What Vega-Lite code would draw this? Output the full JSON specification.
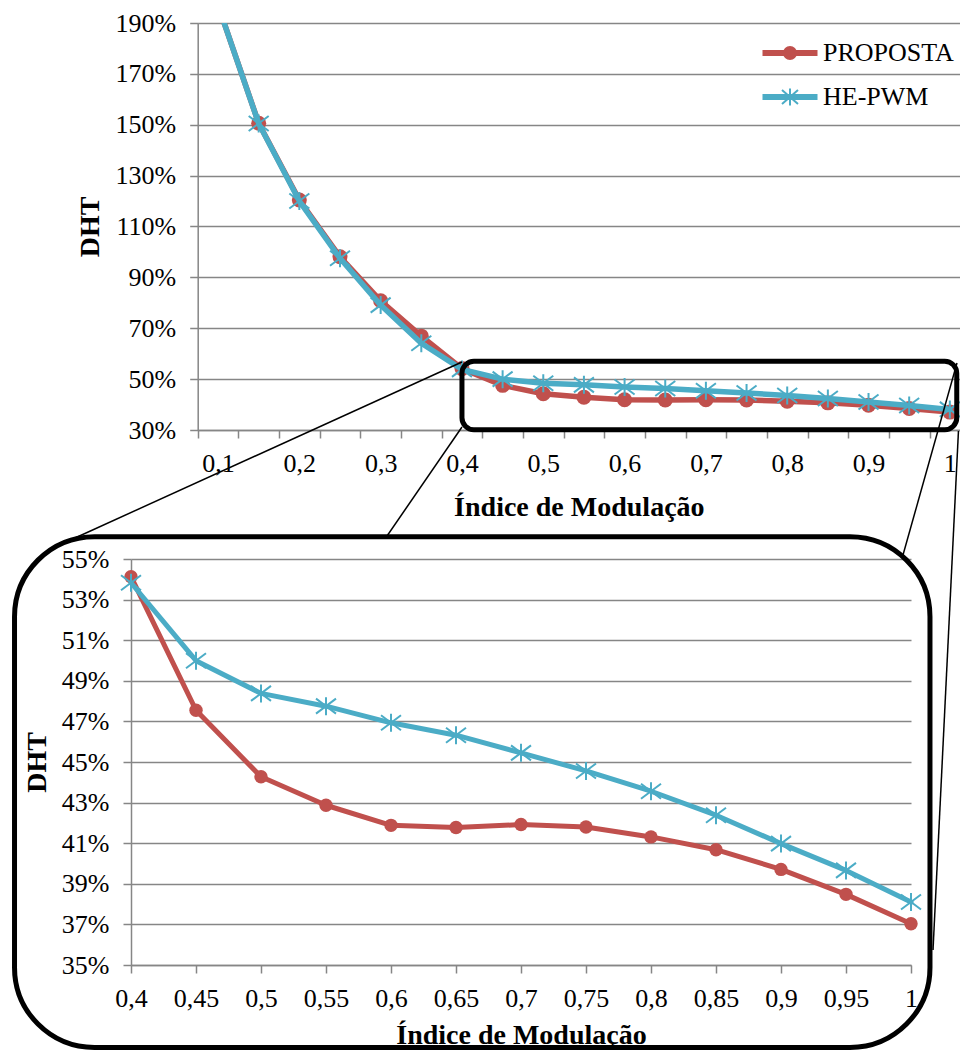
{
  "$schema": "https://vega.github.io/schema/vega-lite/v6.json",
  "autosize": {"type": "none"},
  "padding": {"left": 131, "top": 23, "right": 829, "bottom": 1027},
  "background": "white",
  "bounds": "flush",
  "spacing": 129,
  "datasets": {
    "dht": [
      {"m": 0.1, "serie": "PROPOSTA", "v": 1.97},
      {"m": 0.15, "serie": "PROPOSTA", "v": 1.506},
      {"m": 0.2, "serie": "PROPOSTA", "v": 1.204},
      {"m": 0.25, "serie": "PROPOSTA", "v": 0.981},
      {"m": 0.3, "serie": "PROPOSTA", "v": 0.808},
      {"m": 0.35, "serie": "PROPOSTA", "v": 0.669},
      {"m": 0.4, "serie": "PROPOSTA", "v": 0.5413},
      {"m": 0.45, "serie": "PROPOSTA", "v": 0.4755},
      {"m": 0.5, "serie": "PROPOSTA", "v": 0.4427},
      {"m": 0.55, "serie": "PROPOSTA", "v": 0.4287},
      {"m": 0.6, "serie": "PROPOSTA", "v": 0.4188},
      {"m": 0.65, "serie": "PROPOSTA", "v": 0.4177},
      {"m": 0.7, "serie": "PROPOSTA", "v": 0.4192},
      {"m": 0.75, "serie": "PROPOSTA", "v": 0.418},
      {"m": 0.8, "serie": "PROPOSTA", "v": 0.4131},
      {"m": 0.85, "serie": "PROPOSTA", "v": 0.4068},
      {"m": 0.9, "serie": "PROPOSTA", "v": 0.3971},
      {"m": 0.95, "serie": "PROPOSTA", "v": 0.3848},
      {"m": 1.0, "serie": "PROPOSTA", "v": 0.3703},
      {"m": 0.1, "serie": "HE-PWM", "v": 1.97},
      {"m": 0.15, "serie": "HE-PWM", "v": 1.505},
      {"m": 0.2, "serie": "HE-PWM", "v": 1.2},
      {"m": 0.25, "serie": "HE-PWM", "v": 0.975},
      {"m": 0.3, "serie": "HE-PWM", "v": 0.791},
      {"m": 0.35, "serie": "HE-PWM", "v": 0.641},
      {"m": 0.4, "serie": "HE-PWM", "v": 0.5383},
      {"m": 0.45, "serie": "HE-PWM", "v": 0.4999},
      {"m": 0.5, "serie": "HE-PWM", "v": 0.4838},
      {"m": 0.55, "serie": "HE-PWM", "v": 0.4775},
      {"m": 0.6, "serie": "HE-PWM", "v": 0.4693},
      {"m": 0.65, "serie": "HE-PWM", "v": 0.4632},
      {"m": 0.7, "serie": "HE-PWM", "v": 0.4545},
      {"m": 0.75, "serie": "HE-PWM", "v": 0.4456},
      {"m": 0.8, "serie": "HE-PWM", "v": 0.4356},
      {"m": 0.85, "serie": "HE-PWM", "v": 0.4238},
      {"m": 0.9, "serie": "HE-PWM", "v": 0.4098},
      {"m": 0.95, "serie": "HE-PWM", "v": 0.3966},
      {"m": 1.0, "serie": "HE-PWM", "v": 0.381}
    ]
  },
  "vconcat": [
    {
      "width": 829,
      "height": 407,
      "data": {"name": "dht"},
      "encoding": {
        "x": {
          "field": "m", "type": "quantitative",
          "scale": {"domain": [0.075, 1.0125], "rangeMin": 66.7, "nice": false, "zero": false},
          "axis": {
            "values": [0.075, 0.125, 0.175, 0.225, 0.275, 0.325, 0.375, 0.425, 0.475, 0.525, 0.575, 0.625, 0.675, 0.725, 0.775, 0.825, 0.875, 0.925, 0.975],
            "labelExpr": "(round((datum.value + 0.025) * 100) % 10 == 0) ? replace(format(datum.value + 0.025, '.1~f'), '.', ',') : ''",
            "labelOffset": 20.33,
            "labelFlush": false,
            "labelOverlap": false,
            "grid": false,
            "title": "Índice de Modulação",
            "labelPadding": 12,
            "titlePadding": 17
          }
        },
        "y": {
          "field": "v", "type": "quantitative",
          "scale": {"domain": [0.3, 1.9], "nice": false, "zero": false},
          "axis": {
            "values": [0.3, 0.5, 0.7, 0.9, 1.1, 1.3, 1.5, 1.7, 1.9],
            "format": ".0%",
            "grid": true,
            "offset": -66.7,
            "title": "DHT",
            "labelPadding": 14,
            "titlePadding": 11
          }
        }
      },
      "layer": [
        {
          "transform": [{"filter": "datum.serie === 'PROPOSTA'"}],
          "mark": {"type": "line", "color": "#C0504D", "strokeWidth": 5.5, "strokeJoin": "round", "strokeCap": "round", "clip": true}
        },
        {
          "transform": [{"filter": "datum.serie === 'PROPOSTA'"}],
          "mark": {"type": "point", "shape": "circle", "filled": true, "color": "#C0504D", "size": 225, "opacity": 1, "clip": true}
        },
        {
          "transform": [{"filter": "datum.serie === 'HE-PWM'"}],
          "mark": {"type": "line", "color": "#4BACC6", "strokeWidth": 5.5, "strokeJoin": "round", "strokeCap": "round", "clip": true}
        },
        {
          "transform": [{"filter": "datum.serie === 'HE-PWM'"}],
          "mark": {"type": "point", "shape": "M0,-0.9V0.9M-1,-0.75L1,0.75M-1,0.75L1,-0.75", "filled": false, "color": "#4BACC6", "strokeWidth": 2, "size": 400, "opacity": 1, "clip": true}
        },
        {
          "data": {"values": [{"m": 0.4, "m2": 1.0085, "v": 0.5704, "v2": 0.301}]},
          "mark": {"type": "rect", "filled": false, "stroke": "black", "strokeWidth": 5, "cornerRadius": 12, "clip": false},
          "encoding": {
            "x2": {"field": "m2"},
            "y2": {"field": "v2"}
          }
        },
        {
          "data": {"values": [
            {"m": 0.4, "v": 0.5673, "m2": -0.0759, "v2": -0.1245},
            {"m": 0.4, "v": 0.3118, "m2": 0.3078, "v2": -0.1167},
            {"m": 1.0088, "v": 0.5634, "m2": 0.9424, "v2": -0.1914},
            {"m": 1.0106, "v": 0.2961, "m2": 0.9793, "v2": -1.744}
          ]},
          "mark": {"type": "rule", "color": "black", "strokeWidth": 1.5, "clip": false},
          "encoding": {
            "x2": {"field": "m2"},
            "y2": {"field": "v2"}
          }
        },
        {
          "transform": [{"filter": "false"}],
          "mark": {"type": "point", "filled": true, "size": 400, "strokeWidth": 2, "opacity": 1},
          "encoding": {
            "fill": {
              "field": "serie", "type": "nominal",
              "scale": {"domain": ["PROPOSTA", "HE-PWM"], "range": ["#C0504D", "#4BACC6"]},
              "legend": {"title": null, "orient": "none", "legendX": 646, "legendY": 17, "symbolSize": 400, "symbolStrokeWidth": 2, "labelOffset": 20, "rowPadding": 18, "padding": 0, "labelFontSize": 26, "labelFont": "Liberation Serif", "labelColor": "#000", "symbolOpacity": 1}
            },
            "stroke": {
              "field": "serie", "type": "nominal",
              "scale": {"domain": ["PROPOSTA", "HE-PWM"], "range": ["#C0504D", "#4BACC6"]},
              "legend": {"title": null, "orient": "none", "legendX": 646, "legendY": 17, "symbolSize": 400, "symbolStrokeWidth": 2, "labelOffset": 20, "rowPadding": 18, "padding": 0, "labelFontSize": 26, "labelFont": "Liberation Serif", "labelColor": "#000", "symbolOpacity": 1}
            },
            "shape": {
              "field": "serie", "type": "nominal",
              "scale": {"domain": ["PROPOSTA", "HE-PWM"], "range": ["M-2.65,-0.2H2.65V0.2H-2.65ZM-0.6,0A0.6,0.6 0 1,1 0.6,0A0.6,0.6 0 1,1 -0.6,0Z", "M-2.65,-0.2H2.65V0.2H-2.65ZM0,-0.85V0.85M-0.8,-0.7L0.8,0.7M-0.8,0.7L0.8,-0.7"]},
              "legend": {"title": null, "orient": "none", "legendX": 646, "legendY": 17, "symbolSize": 400, "symbolStrokeWidth": 2, "labelOffset": 20, "rowPadding": 18, "padding": 0, "labelFontSize": 26, "labelFont": "Liberation Serif", "labelColor": "#000", "symbolOpacity": 1}
            }
          }
        }
      ]
    },
    {
      "width": 780,
      "height": 406,
      "data": {"name": "dht"},
      "encoding": {
        "x": {
          "field": "m", "type": "quantitative",
          "scale": {"domain": [0.4, 1], "nice": false, "zero": false},
          "axis": {
            "values": [0.4, 0.45, 0.5, 0.55, 0.6, 0.65, 0.7, 0.75, 0.8, 0.85, 0.9, 0.95, 1],
            "labelExpr": "replace(format(datum.value, '.2~f'), '.', ',')",
            "labelFlush": false,
            "labelOverlap": false,
            "grid": false,
            "title": "Índice de Modulação",
            "labelPadding": 12,
            "titlePadding": 10
          }
        },
        "y": {
          "field": "v", "type": "quantitative",
          "scale": {"domain": [0.35, 0.55], "nice": false, "zero": false},
          "axis": {
            "values": [0.35, 0.37, 0.39, 0.41, 0.43, 0.45, 0.47, 0.49, 0.51, 0.53, 0.55],
            "format": ".0%",
            "grid": true,
            "title": "DHT",
            "labelPadding": 14,
            "titlePadding": 10
          }
        }
      },
      "layer": [
        {
          "transform": [{"filter": "datum.serie === 'PROPOSTA' && datum.m >= 0.399"}],
          "mark": {"type": "line", "color": "#C0504D", "strokeWidth": 5, "strokeJoin": "round", "strokeCap": "round"}
        },
        {
          "transform": [{"filter": "datum.serie === 'PROPOSTA' && datum.m >= 0.399"}],
          "mark": {"type": "point", "shape": "circle", "filled": true, "color": "#C0504D", "size": 180, "opacity": 1}
        },
        {
          "transform": [{"filter": "datum.serie === 'HE-PWM' && datum.m >= 0.399"}],
          "mark": {"type": "line", "color": "#4BACC6", "strokeWidth": 5, "strokeJoin": "round", "strokeCap": "round"}
        },
        {
          "transform": [{"filter": "datum.serie === 'HE-PWM' && datum.m >= 0.399"}],
          "mark": {"type": "point", "shape": "M0,-0.9V0.9M-1,-0.75L1,0.75M-1,0.75L1,-0.75", "filled": false, "color": "#4BACC6", "strokeWidth": 2, "size": 400, "opacity": 1}
        },
        {
          "data": {"values": [{"m": 0.3104, "m2": 1.0146, "v": 0.561, "v2": 0.3094}]},
          "mark": {"type": "rect", "filled": false, "stroke": "black", "strokeWidth": 5, "cornerRadius": 80, "clip": false},
          "encoding": {
            "x2": {"field": "m2"},
            "y2": {"field": "v2"}
          }
        }
      ]
    }
  ],
  "config": {
    "font": "Liberation Serif",
    "view": {"stroke": null},
    "axis": {
      "labelFont": "Liberation Serif", "labelFontSize": 26, "labelColor": "#000",
      "titleFont": "Liberation Serif", "titleFontSize": 28, "titleFontWeight": "bold", "titleColor": "#000",
      "domainColor": "#868686", "domainWidth": 1.5,
      "tickColor": "#868686", "tickWidth": 1.5, "tickSize": 8,
      "gridColor": "#868686", "gridWidth": 1.5
    },
    "legend": {"labelFont": "Liberation Serif", "labelFontSize": 26, "labelColor": "#000"}
  }
}
